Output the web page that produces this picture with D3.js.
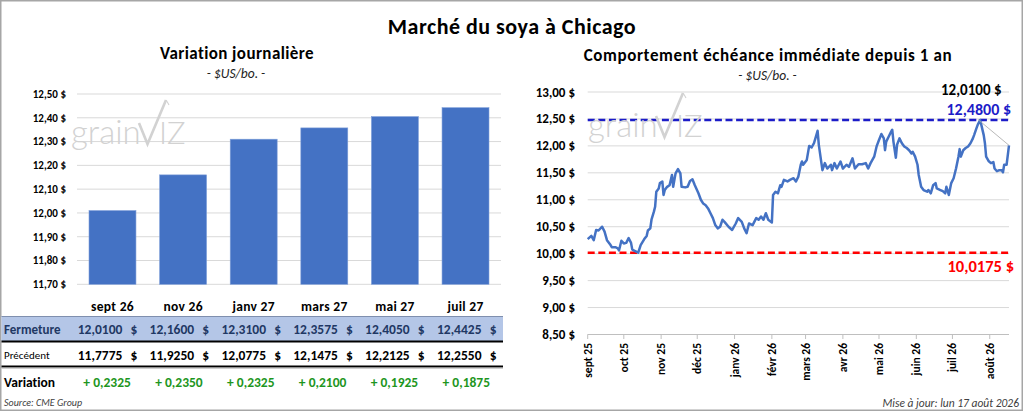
<!DOCTYPE html>
<html><head><meta charset="utf-8">
<script src="https://cdn.jsdelivr.net/npm/d3@7"></script>
<style>
html,body{margin:0;padding:0;background:#fff;}
svg{display:block;font-family:Carlito,Calibri,Lato,"Open Sans",sans-serif;font-variant-ligatures:none;font-feature-settings:"liga" 0;}
</style></head><body>
<svg id="c" width="1024" height="414"></svg>
<script>
// ---------- DATA ----------
const contracts = ["sept 26","nov 26","janv 27","mars 27","mai 27","juil 27"];
const closing   = [12.0100, 12.1600, 12.3100, 12.3575, 12.4050, 12.4425];
const previous  = [11.7775, 11.9250, 12.0775, 12.1475, 12.2125, 12.2550];
const barTicks  = [11.70, 11.80, 11.90, 12.00, 12.10, 12.20, 12.30, 12.40, 12.50];
const lineTicks = [8.50, 9.00, 9.50, 10.00, 10.50, 11.00, 11.50, 12.00, 12.50, 13.00];
const monthTicks  = ["2025-09-01","2025-10-01","2025-11-01","2025-12-01","2026-01-01","2026-02-01",
                     "2026-03-01","2026-04-01","2026-05-01","2026-06-01","2026-07-01","2026-08-01"];
const monthLabels = ["sept 25","oct 25","nov 25","déc 25","janv 26","févr 26",
                     "mars 26","avr 26","mai 26","juin 26","juil 26","août 26"];
const history = [
["2025-09-01",10.27],["2025-09-04",10.33],["2025-09-06",10.25],["2025-09-08",10.44],["2025-09-10",10.43],
["2025-09-13",10.50],["2025-09-15",10.41],["2025-09-17",10.25],["2025-09-20",10.16],["2025-09-21",10.12],
["2025-09-24",10.12],["2025-09-26",10.10],["2025-09-27",10.06],["2025-09-29",10.24],["2025-10-01",10.19],
["2025-10-03",10.20],["2025-10-05",10.29],["2025-10-07",10.20],["2025-10-08",10.08],["2025-10-10",10.05],
["2025-10-13",10.0175],["2025-10-15",10.16],["2025-10-18",10.27],["2025-10-20",10.33],["2025-10-21",10.43],
["2025-10-23",10.47],["2025-10-24",10.63],["2025-10-26",10.78],["2025-10-27",10.87],["2025-10-28",11.15],
["2025-10-30",11.21],["2025-10-31",11.31],["2025-11-02",11.34],["2025-11-03",11.09],["2025-11-04",11.18],
["2025-11-06",11.24],["2025-11-08",11.27],["2025-11-10",11.46],["2025-11-11",11.24],["2025-11-13",11.49],
["2025-11-15",11.57],["2025-11-17",11.49],["2025-11-18",11.24],["2025-11-21",11.23],["2025-11-23",11.24],
["2025-11-25",11.35],["2025-11-27",11.38],["2025-11-29",11.27],["2025-12-02",11.12],["2025-12-04",11.00],
["2025-12-06",10.93],["2025-12-08",10.90],["2025-12-10",10.84],["2025-12-12",10.75],["2025-12-14",10.66],
["2025-12-16",10.53],["2025-12-18",10.47],["2025-12-20",10.50],["2025-12-22",10.63],["2025-12-24",10.58],
["2025-12-27",10.50],["2025-12-30",10.44],["2026-01-02",10.56],["2026-01-04",10.66],["2026-01-07",10.59],
["2026-01-09",10.47],["2026-01-11",10.38],["2026-01-13",10.56],["2026-01-16",10.53],["2026-01-19",10.66],
["2026-01-21",10.63],["2026-01-23",10.69],["2026-01-25",10.63],["2026-01-27",10.75],["2026-01-29",10.63],
["2026-02-01",10.58],["2026-02-02",11.09],["2026-02-04",11.15],["2026-02-06",11.12],["2026-02-08",11.27],
["2026-02-09",11.24],["2026-02-11",11.37],["2026-02-14",11.34],["2026-02-16",11.37],["2026-02-19",11.40],
["2026-02-21",11.34],["2026-02-23",11.43],["2026-02-25",11.65],["2026-02-26",11.71],["2026-02-27",11.65],
["2026-03-02",11.74],["2026-03-04",12.00],["2026-03-06",11.97],["2026-03-08",12.05],["2026-03-11",12.28],
["2026-03-12",12.02],["2026-03-15",11.55],["2026-03-17",11.68],["2026-03-19",11.58],["2026-03-22",11.65],
["2026-03-23",11.55],["2026-03-25",11.68],["2026-03-27",11.58],["2026-03-30",11.71],["2026-04-01",11.58],
["2026-04-04",11.65],["2026-04-06",11.61],["2026-04-09",11.77],["2026-04-11",11.58],["2026-04-14",11.66],
["2026-04-17",11.66],["2026-04-20",11.68],["2026-04-22",11.58],["2026-04-24",11.68],["2026-04-27",11.80],
["2026-04-29",11.99],["2026-05-01",12.11],["2026-05-03",12.22],["2026-05-05",12.14],["2026-05-06",11.92],
["2026-05-07",12.08],["2026-05-09",12.17],["2026-05-11",12.26],["2026-05-12",12.30],["2026-05-13",12.08],
["2026-05-15",11.78],["2026-05-16",12.02],["2026-05-18",12.14],["2026-05-20",12.05],["2026-05-22",11.99],
["2026-05-24",11.96],["2026-05-26",11.92],["2026-05-28",11.86],["2026-05-29",11.89],["2026-05-31",11.80],
["2026-06-02",11.65],["2026-06-03",11.46],["2026-06-05",11.24],["2026-06-07",11.18],["2026-06-10",11.15],
["2026-06-11",11.18],["2026-06-13",11.12],["2026-06-15",11.27],["2026-06-17",11.31],["2026-06-18",11.21],
["2026-06-21",11.18],["2026-06-23",11.16],["2026-06-25",11.12],["2026-06-26",11.24],["2026-06-28",11.09],
["2026-06-30",11.31],["2026-07-02",11.40],["2026-07-04",11.58],["2026-07-06",11.80],["2026-07-07",11.94],
["2026-07-08",11.80],["2026-07-10",11.92],["2026-07-12",11.96],["2026-07-14",11.99],["2026-07-16",12.05],
["2026-07-18",12.14],["2026-07-19",12.20],["2026-07-21",12.33],["2026-07-22",12.39],["2026-07-24",12.48],
["2026-07-25",12.39],["2026-07-27",12.20],["2026-07-28",12.05],["2026-07-29",11.80],["2026-07-31",11.72],
["2026-08-02",11.68],["2026-08-04",11.70],["2026-08-05",11.58],["2026-08-07",11.53],["2026-08-09",11.55],
["2026-08-11",11.55],["2026-08-12",11.51],["2026-08-13",11.65],["2026-08-15",11.65],["2026-08-16",11.83],
["2026-08-17",12.01]
];
const axisStart = "2025-09-01", axisEnd = "2026-08-17";
const updatedText = "Mise à jour: lun 17 août 2026";
const sourceText = "Source: CME Group";

// ---------- HELPERS ----------
const fr = d3.formatLocale({decimal:",", thousands:" ", grouping:[3], currency:["",""]});
const f4 = fr.format(".4f"), f2 = fr.format(".2f");
const parse = d3.timeParse("%Y-%m-%d");
const svg = d3.select("#c");
const BLUE = "#4472C4", GRID = "#d9d9d9";

svg.append("rect").attr("x",0.75).attr("y",0.75).attr("width",1021.5).attr("height",409.5)
  .attr("fill","#fff").attr("stroke","#a6a6a6").attr("stroke-width",1.5);

svg.append("text").attr("x",512).attr("y",34).attr("text-anchor","middle")
  .attr("font-size",22).attr("letter-spacing",0.5).attr("font-weight","bold").attr("fill","#000")
  .text("Marché du soya à Chicago");

function logo(g){
  const c = "#d2d2d2";
  g.append("text").attr("x",0).attr("y",0).attr("font-size",33).attr("font-weight",300)
    .attr("fill",c).attr("font-family","Lato, 'Open Sans', sans-serif").text("grain");
  g.append("text").attr("x",88).attr("y",0).attr("font-size",31).attr("font-weight",300)
    .attr("fill",c).attr("font-family","Lato, 'Open Sans', sans-serif").text("IZ");
  g.append("path").attr("d","M68,-21 L76.5,0 L95,-44").attr("fill","none")
    .attr("stroke",c).attr("stroke-width",2.6).attr("stroke-linejoin","miter");
  g.append("path").attr("d","M95,-44 Q96.5,-42 98,-39").attr("fill","none").attr("stroke",c).attr("stroke-width",1.1);
}

// ---------- LEFT: BAR CHART ----------
svg.append("text").attr("x",237).attr("y",59).attr("text-anchor","middle")
  .attr("font-size",17).attr("letter-spacing",0.4).attr("font-weight","bold").text("Variation  journalière");
svg.append("text").attr("x",236).attr("y",78).attr("text-anchor","middle")
  .attr("font-size",13.5).attr("font-style","italic").attr("fill","#222").text("- $US/bo. -");

const yB = d3.scaleLinear().domain([11.70, 12.50]).range([284.3, 94]);
const xB = d3.scaleBand().domain(contracts).range([77, 501]).paddingInner(0.335).paddingOuter(0.17);

const gB = svg.append("g");
gB.selectAll("line.grid").data(barTicks).join("line")
  .attr("x1",77).attr("x2",501).attr("y1",d=>yB(d)).attr("y2",d=>yB(d))
  .attr("stroke",GRID).attr("stroke-width",1);
gB.selectAll("text.yl").data(barTicks).join("text")
  .attr("x",66).attr("y",d=>yB(d)).attr("dy","0.35em").attr("text-anchor","end")
  .attr("font-size",11).attr("font-weight","bold").text(d=>f2(d)+" $");

logo(svg.append("g").attr("transform","translate(71,144)"));

gB.selectAll("rect.bar").data(closing).join("rect")
  .attr("x",(d,i)=>xB(contracts[i])).attr("width",xB.bandwidth())
  .attr("y",d=>yB(d)).attr("height",d=>yB(11.70)-yB(d))
  .attr("fill",BLUE).attr("stroke","#7f9fd9").attr("stroke-width",0.6);
gB.selectAll("text.cat").data(contracts).join("text")
  .attr("x",d=>xB(d)+xB.bandwidth()/2).attr("y",311).attr("text-anchor","middle")
  .attr("font-size",13.5).attr("letter-spacing",0.3).attr("font-weight","bold").text(d=>d);

// ---------- TABLE ----------
const xT = d3.scaleBand().domain(contracts).range([65, 496]);
const colRight = c => xT(c) + xT.step();
svg.append("rect").attr("x",1.5).attr("y",316).attr("width",501.5).attr("height",25).attr("fill","#b4c6e7");
svg.append("line").attr("x1",1.5).attr("x2",503).attr("y1",316.5).attr("y2",316.5).attr("stroke","#7f8fae").attr("stroke-width",1);
svg.append("line").attr("x1",1.5).attr("x2",503).attr("y1",341.5).attr("y2",341.5).attr("stroke","#000").attr("stroke-width",1.8);
svg.append("line").attr("x1",1.5).attr("x2",503).attr("y1",366.5).attr("y2",366.5).attr("stroke","#000").attr("stroke-width",1.8);
svg.append("line").attr("x1",1.5).attr("x2",503).attr("y1",368.2).attr("y2",368.2).attr("stroke","#bbb").attr("stroke-width",1);

svg.append("text").attr("x",4).attr("y",333.5).attr("font-size",13).attr("font-weight","bold").attr("fill","#1F3864").text("Fermeture");
svg.append("text").attr("x",4).attr("y",359).attr("font-size",11).attr("fill","#000").text("Précédent");
svg.append("text").attr("x",4).attr("y",386.5).attr("font-size",13.5).attr("font-weight","bold").attr("fill","#000").text("Variation");

function moneyRow(vals, y, color){
  const g = svg.append("g").attr("font-size",13.5).attr("font-weight","bold").attr("fill",color);
  g.selectAll("text.n").data(vals).join("text").attr("x",(d,i)=>colRight(contracts[i])-14.5)
    .attr("y",y).attr("text-anchor","end").text(d=>f4(d));
  g.selectAll("text.s").data(vals).join("text").attr("x",(d,i)=>colRight(contracts[i])+0.5)
    .attr("y",y).attr("text-anchor","end").text("$");
}
moneyRow(closing, 333.5, "#1F3864");
moneyRow(previous, 359.5, "#000");
const variation = closing.map((c,i)=>c-previous[i]);
svg.append("g").selectAll("text").data(variation).join("text")
  .attr("x",(d,i)=>colRight(contracts[i])-6).attr("y",386.5).attr("text-anchor","end")
  .attr("font-size",13.5).attr("font-weight","bold").attr("fill","#1E961E")
  .text(d=>(d>=0?"+ ":"- ")+f4(Math.abs(d)));

svg.append("text").attr("x",4).attr("y",406).attr("font-size",10).attr("font-style","italic")
  .attr("fill","#404040").text(sourceText);

// ---------- RIGHT: LINE CHART ----------
svg.append("text").attr("x",768).attr("y",61).attr("text-anchor","middle")
  .attr("font-size",17).attr("letter-spacing",0.6).attr("font-weight","bold")
  .text("Comportement  échéance immédiate depuis 1 an");
svg.append("text").attr("x",767.5).attr("y",80).attr("text-anchor","middle")
  .attr("font-size",13.5).attr("font-style","italic").attr("fill","#222").text("- $US/bo. -");

const yL = d3.scaleLinear().domain([8.5, 13]).range([334.5, 92]);
const xL = d3.scaleTime().domain([parse(axisStart), parse(axisEnd)]).range([587.7, 1009]);
const gL = svg.append("g");
gL.selectAll("line.grid").data(lineTicks).join("line")
  .attr("x1",587.7).attr("x2",1009).attr("y1",d=>yL(d)).attr("y2",d=>yL(d))
  .attr("stroke",GRID).attr("stroke-width",1);
gL.selectAll("text.yl").data(lineTicks).join("text")
  .attr("x",575).attr("y",d=>yL(d)).attr("dy","0.35em").attr("text-anchor","end")
  .attr("font-size",13).attr("font-weight","bold").text(d=>f2(d)+" $");

logo(svg.append("g").attr("transform","translate(588,137)"));

// x axis
gL.append("line").attr("x1",587.7).attr("x2",1009).attr("y1",yL(8.5)).attr("y2",yL(8.5)).attr("stroke","#bfbfbf");
gL.selectAll("line.tk").data(monthTicks).join("line")
  .attr("x1",d=>xL(parse(d))).attr("x2",d=>xL(parse(d))).attr("y1",yL(8.5)).attr("y2",yL(8.5)+4.5)
  .attr("stroke","#bfbfbf");
gL.selectAll("text.xl").data(monthTicks).join("text")
  .attr("transform",d=>`translate(${xL(parse(d))},343) rotate(-90)`).attr("dy","0.35em")
  .attr("text-anchor","end").attr("font-size",11.5).attr("font-weight","bold")
  .text((d,i)=>monthLabels[i]);

// max / min dashed lines
const vals = history.map(d=>d[1]);
const maxV = d3.max(vals), minV = d3.min(vals);
gL.append("line").attr("x1",587.7).attr("x2",1009).attr("y1",yL(maxV)).attr("y2",yL(maxV))
  .attr("stroke","#1C1CC8").attr("stroke-width",2.6).attr("stroke-dasharray","7,3.6");
gL.append("line").attr("x1",587.7).attr("x2",1009).attr("y1",yL(minV)).attr("y2",yL(minV))
  .attr("stroke","#FF0000").attr("stroke-width",2.6).attr("stroke-dasharray","7,3.6");

// the series
const line = d3.line().x(d=>xL(parse(d[0]))).y(d=>yL(d[1]));
gL.append("path").datum(history).attr("d",line).attr("fill","none")
  .attr("stroke",BLUE).attr("stroke-width",2.5).attr("stroke-linejoin","round");

// last-value label with leader line
const last = history[history.length-1];
gL.append("line").attr("x1",978).attr("y1",119.5).attr("x2",xL(parse(last[0]))).attr("y2",yL(last[1]))
  .attr("stroke","#a6a6a6").attr("stroke-width",0.8);
gL.append("text").attr("x",1001.5).attr("y",95).attr("text-anchor","end")
  .attr("font-size",15).attr("font-weight","bold").attr("fill","#000").text(f4(last[1])+" $");
gL.append("text").attr("x",1011).attr("y",114.5).attr("text-anchor","end")
  .attr("font-size",16).attr("font-weight","bold").attr("fill","#1C1CC8").text(f4(maxV)+" $");
gL.append("text").attr("x",1014).attr("y",272).attr("text-anchor","end")
  .attr("font-size",16.5).attr("font-weight","bold").attr("fill","#FF0000").text(f4(minV)+" $");

svg.append("text").attr("x",1019).attr("y",407).attr("text-anchor","end").attr("font-size",11.5)
  .attr("font-style","italic").attr("fill","#404040").text(updatedText);
</script>
</body></html>
